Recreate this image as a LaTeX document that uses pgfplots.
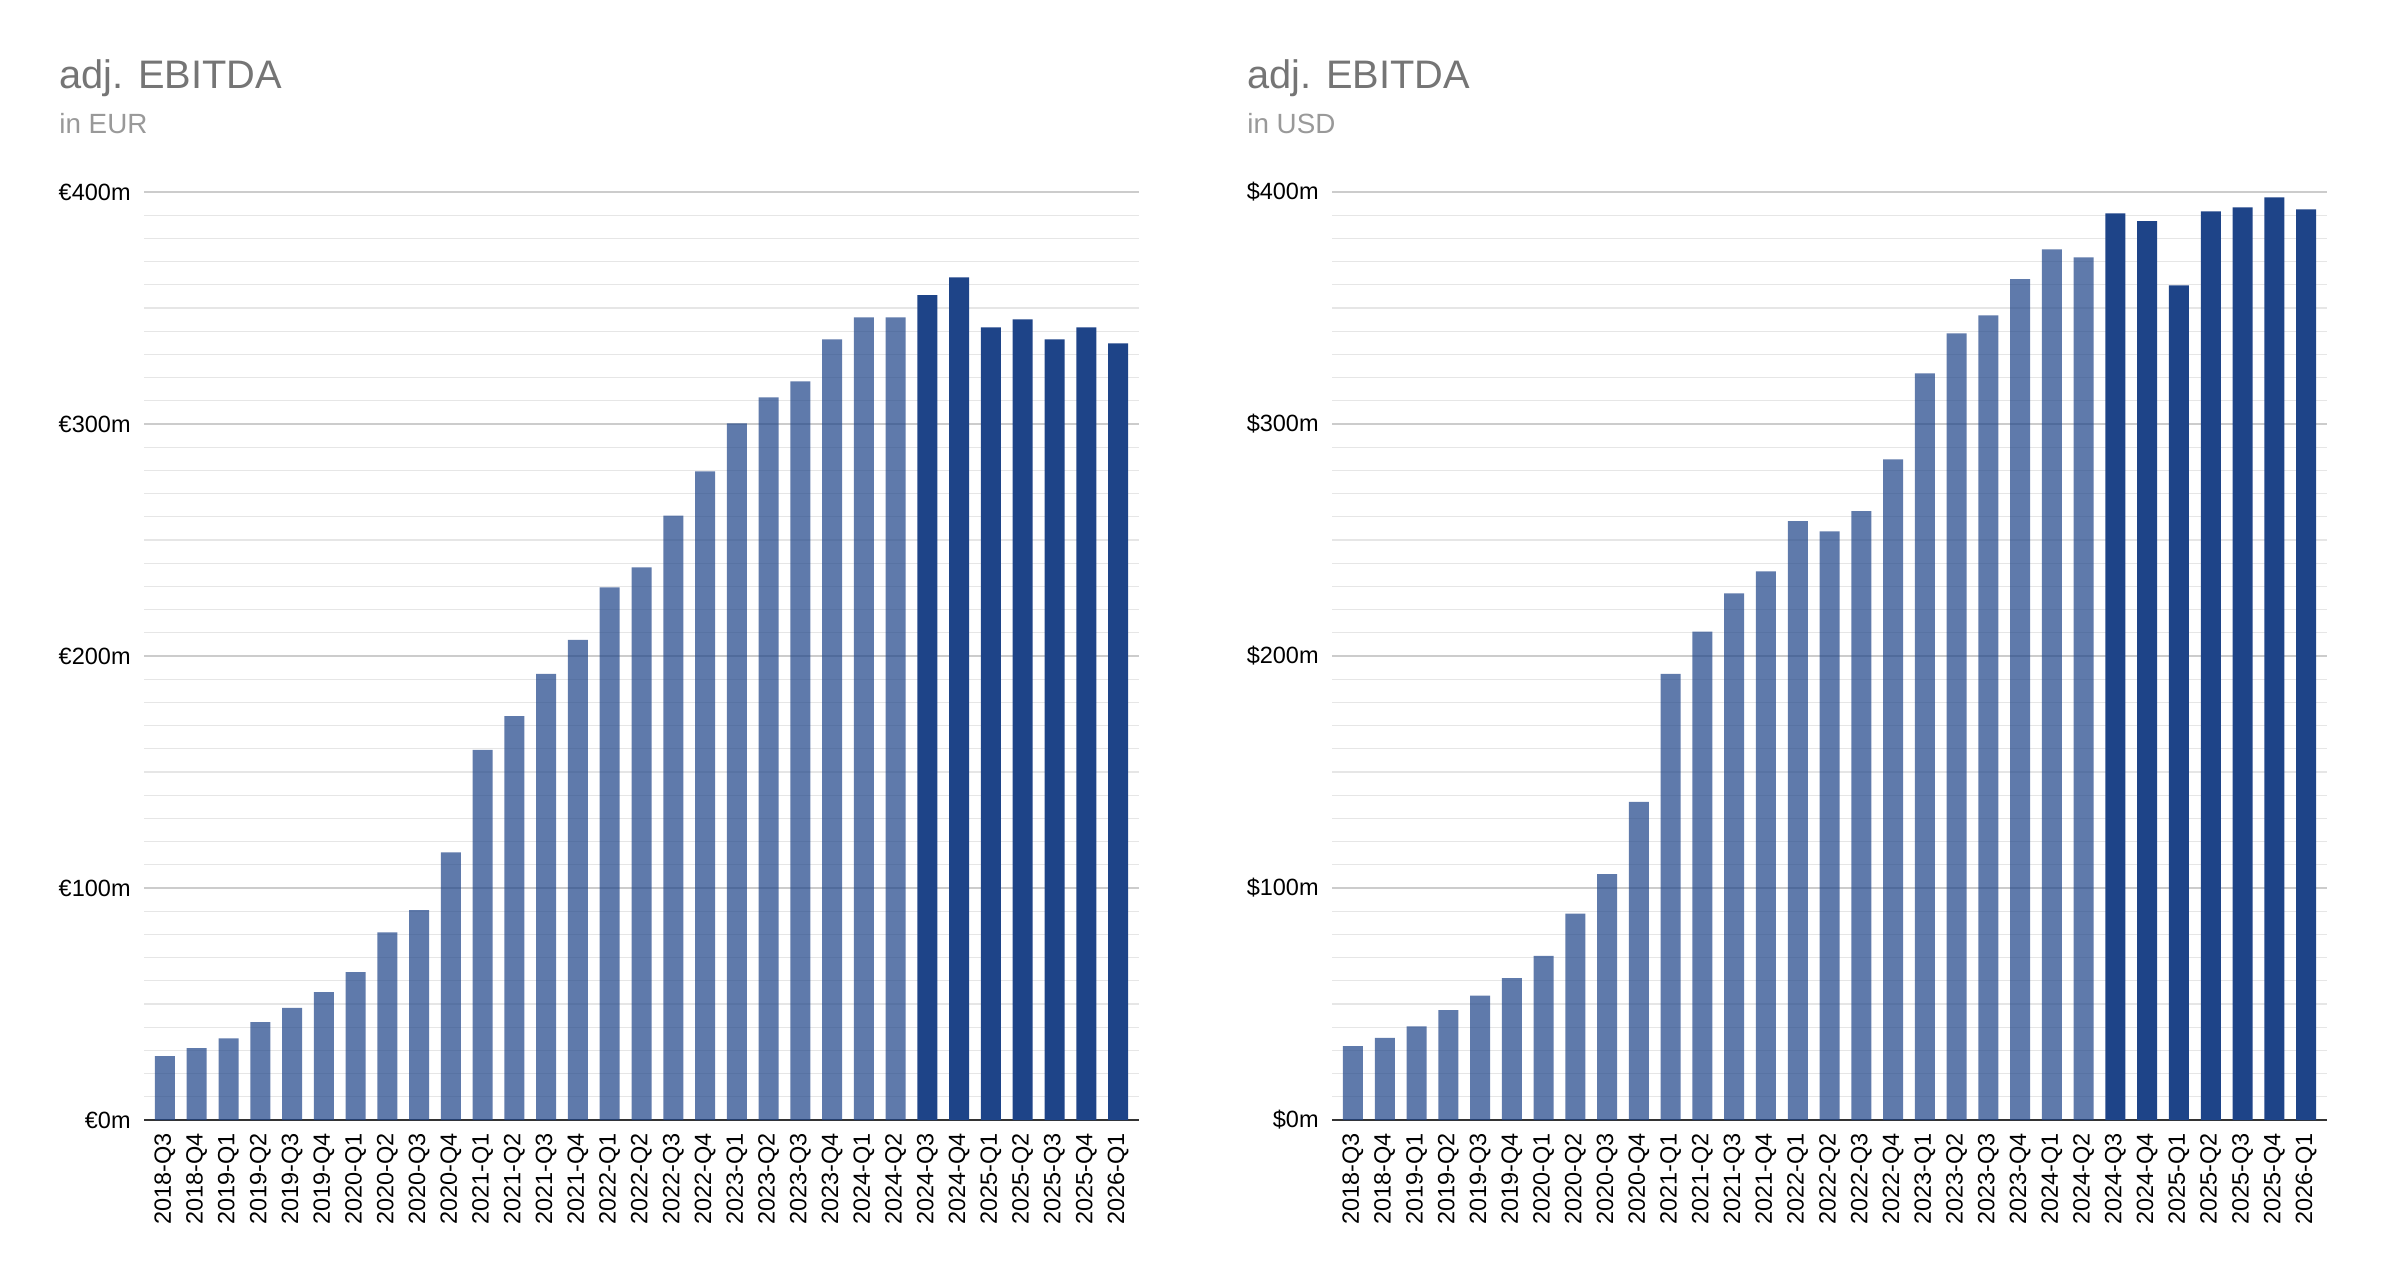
\documentclass[border=0pt]{standalone}
\usepackage{fontspec}
\setmainfont{Liberation Sans}
\usepackage{pgfplots}
\pgfplotsset{compat=1.18}
\definecolor{bardark}{HTML}{1E4488}
\definecolor{majgrid}{HTML}{CCCCCC}
\definecolor{mingrid}{HTML}{E6E6E6}
\definecolor{titlegray}{HTML}{757575}
\definecolor{subgray}{HTML}{999999}
\definecolor{axisgray}{HTML}{333333}

\pgfplotsset{ebitda/.style={
  scale only axis, width=497.5pt, height=464pt, anchor=south west,
  xmin=-0.66, xmax=30.66, ymin=0, ymax=400,
  axis x line*=bottom, axis y line*=left,
  y axis line style={draw=none},
  x axis line style={draw=axisgray, line width=0.75pt, -},
  xtick={0,...,30},
  xticklabels={2018-Q3,2018-Q4,2019-Q1,2019-Q2,2019-Q3,2019-Q4,2020-Q1,2020-Q2,2020-Q3,2020-Q4,2021-Q1,2021-Q2,2021-Q3,2021-Q4,2022-Q1,2022-Q2,2022-Q3,2022-Q4,2023-Q1,2023-Q2,2023-Q3,2023-Q4,2024-Q1,2024-Q2,2024-Q3,2024-Q4,2025-Q1,2025-Q2,2025-Q3,2025-Q4,2026-Q1},
  ytick={0,100,200,300,400}, minor y tick num=9,
  ymajorgrids, yminorgrids,
  major grid style={draw=majgrid, line width=0.6pt},
  minor grid style={draw=mingrid, line width=0.6pt},
  tick style={draw=none}, major tick length=0pt, minor tick length=0pt,
  xticklabel shift=6.5pt, yticklabel shift=6.5pt,
  xticklabel style={rotate=90, anchor=east, inner sep=0pt, font=\fontsize{11.75}{12}\selectfont},
  yticklabel style={anchor=east, inner sep=0pt, font=\fontsize{11.75}{12}\selectfont},
  ybar, bar width=10pt,
  clip=false,
}}

\begin{document}
\begin{tikzpicture}
% ---------- left: EUR ----------
\begin{axis}[ebitda, at={(72pt,80.5pt)},
  yticklabels={€0m,€100m,€200m,€300m,€400m}]
\addplot[fill=bardark, fill opacity=0.71, draw=none, bar shift=0pt] coordinates {
(0,27.5) (1,31.0) (2,35.2) (3,42.2) (4,48.3) (5,55.1) (6,63.7) (7,80.9) (8,90.5) (9,115.4)
(10,159.5) (11,174.1) (12,192.3) (13,207.0) (14,229.6) (15,238.2) (16,260.5) (17,279.6)
(18,300.3) (19,311.5) (20,318.4) (21,336.5) (22,346.0) (23,346.0)};
\addplot[fill=bardark, draw=none, bar shift=0pt] coordinates {
(24,355.5) (25,363.2) (26,341.7) (27,345.1) (28,336.5) (29,341.7) (30,334.8)};
\end{axis}
% ---------- right: USD ----------
\begin{axis}[ebitda, at={(666pt,80.5pt)},
  yticklabels={\$0m,\$100m,\$200m,\$300m,\$400m}]
\addplot[fill=bardark, fill opacity=0.71, draw=none, bar shift=0pt] coordinates {
(0,31.8) (1,35.4) (2,40.4) (3,47.4) (4,53.6) (5,61.2) (6,70.8) (7,89.0) (8,106.0) (9,137.1)
(10,192.3) (11,210.5) (12,227.0) (13,236.5) (14,258.1) (15,253.7) (16,262.4) (17,284.8)
(18,321.8) (19,339.1) (20,346.8) (21,362.4) (22,375.3) (23,371.8)};
\addplot[fill=bardark, draw=none, bar shift=0pt] coordinates {
(24,390.8) (25,387.4) (26,359.8) (27,391.7) (28,393.4) (29,397.7) (30,392.5)};
\end{axis}
% ---------- titles ----------
\node[anchor=base west, inner sep=0pt, text=titlegray, font=\fontsize{19.9}{24}\selectfont] at (29.5pt,596pt) {adj. EBITDA};
\node[anchor=base west, inner sep=0pt, text=subgray, font=\fontsize{13.9}{16}\selectfont] at (29.5pt,573.5pt) {in EUR};
\node[anchor=base west, inner sep=0pt, text=titlegray, font=\fontsize{19.9}{24}\selectfont] at (623.5pt,596pt) {adj. EBITDA};
\node[anchor=base west, inner sep=0pt, text=subgray, font=\fontsize{13.9}{16}\selectfont] at (623.5pt,573.5pt) {in USD};
\pgfresetboundingbox
\path (0,0) rectangle (1191pt,640.5pt);
\end{tikzpicture}
\end{document}
